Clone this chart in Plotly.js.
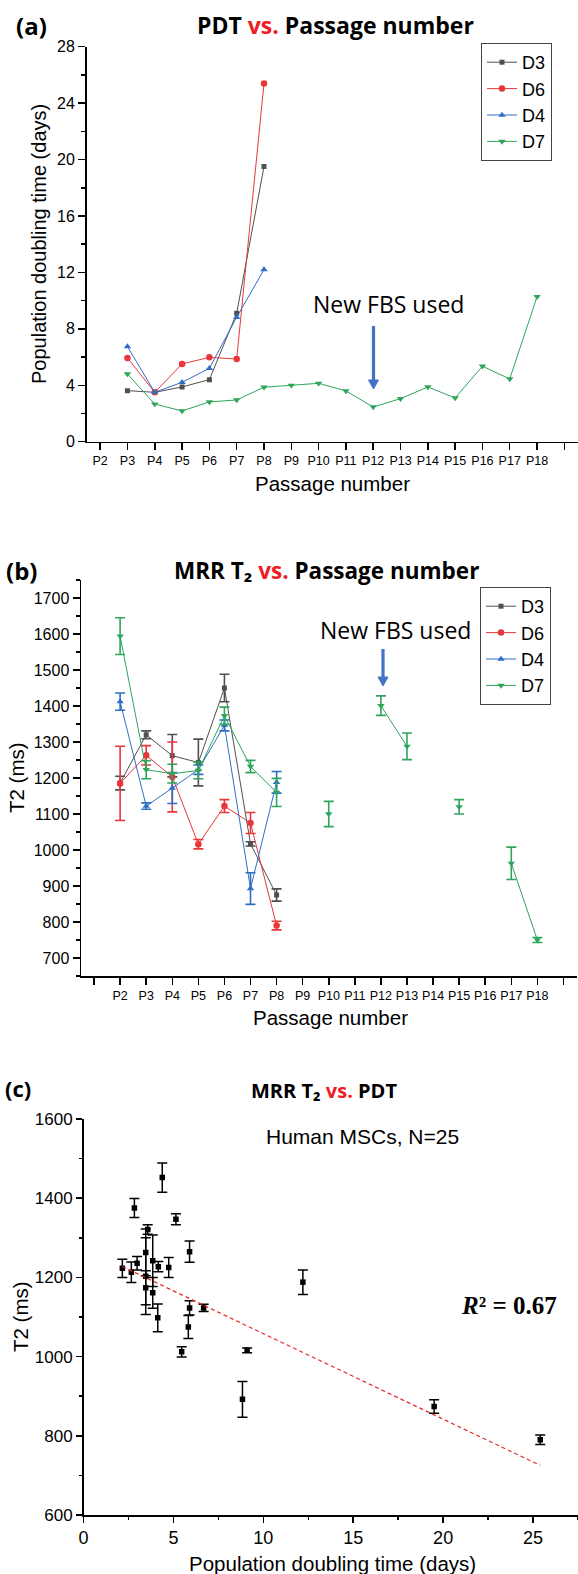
<!DOCTYPE html>
<html>
<head>
<meta charset="utf-8">
<script src="https://cdn.plot.ly/plotly-3.0.1.min.js"></script>
<style>
  html, body { margin: 0; padding: 0; background: #fff; }
  #chart { width: 578px; height: 1574px; }
</style>
</head>
<body>
<div id="chart"></div>
<script>
// ---------------- DATA ----------------
// Tick labels of the passage axes
const passageLabels = ['P2','P3','P4','P5','P6','P7','P8','P9','P10','P11','P12','P13','P14','P15','P16','P17','P18'];
const seriesNames = ['D3','D6','D4','D7'];

// (a) Population doubling time (days) vs passage
const pdtPassagesShort = ['P3','P4','P5','P6','P7','P8'];
const pdtPassagesD7 = ['P3','P4','P5','P6','P7','P8','P9','P10','P11','P12','P13','P14','P15','P16','P17','P18'];
const pdtD3 = [3.62, 3.50, 3.88, 4.40, 9.10, 19.50];
const pdtD6 = [5.94, 3.50, 5.51, 5.98, 5.86, 25.40];
const pdtD4 = [6.74, 3.50, 4.21, 5.20, 8.82, 12.20];
const pdtD7 = [4.80, 2.67, 2.18, 2.82, 2.96, 3.86, 4.00, 4.14, 3.60, 2.46, 3.05, 3.88, 3.10, 5.35, 4.45, 10.28];

// (b) MRR T2 (ms) vs passage, with error bars
const t2PassagesShort = ['P2','P3','P4','P5','P6','P7','P8'];
const t2PassagesD7 = ['P2','P3','P4','P5','P6','P7','P8','P9','P10','P11','P12','P13','P14','P15','P16','P17','P18'];
const t2D3 = [1186, 1320, 1262, 1243, 1450, 1017, 875];
const t2D3Err = [19, 11, 59, 65, 38, 6, 17];
const t2D6 = [1185, 1263, 1203, 1016, 1122, 1075, 790];
const t2D6Err = [103, 27, 97, 13, 18, 29, 12];
const t2D4 = [1412, 1122, 1172, 1223, 1346, 893, 1188];
const t2D4Err = [24, 9, 43, 13, 15, 44, 30];
const t2D7 = [1594, 1223, 1212, 1221, 1373, 1232, 1160, null, 1100, null, 1401, 1288, null, 1120, null, 963, 750];
const t2D7Err = [51, 25, 26, 23, 24, 17, 39, null, 35, null, 27, 37, null, 20, null, 45, 7];

// (c) MRR T2 vs PDT (N = 25)
const cPdt = [4.38, 2.83, 5.14, 3.57, 3.46, 5.90, 2.16, 2.66, 2.98, 3.85, 4.16, 4.74, 3.46, 3.46, 3.85, 4.13, 5.90, 6.68, 5.83, 5.46, 9.10, 12.20, 8.84, 19.50, 25.40];
const cT2 = [1452, 1375, 1347, 1321, 1263, 1265, 1223, 1213, 1236, 1242, 1227, 1225, 1203, 1174, 1161, 1098, 1123, 1123, 1075, 1012, 1016, 1188, 892, 874, 790];
const cErr = [37, 24, 14, 12, 59, 27, 23, 26, 17, 65, 13, 25, 97, 43, 39, 35, 18, 9, 29, 13, 6, 31, 45, 17, 12];
// Linear fit shown on the chart
const fitSlope = -21.6;
const fitIntercept = 1274;
const fitR2Text = '0.67';

// ---------------- HELPERS ----------------
const W = 578, H = 1574;
const px = x => x / W;
const py = y => 1 - y / H;
const pnum = lbl => parseInt(lbl.slice(1), 10);

const colors = { D3: '#505050', D6: '#e8363a', D4: '#2f6ec4', D7: '#2ea55b' };
const symbols = { D3: 'square', D6: 'circle', D4: 'triangle-up', D7: 'triangle-down' };
const sans = "Arial, 'Liberation Sans', sans-serif";
const titleFont = "'Open Sans', 'Noto Sans', 'DejaVu Sans', sans-serif";

function lineTrace(name, xs, ys, xa, ya, legend, err) {
  const t = {
    type: 'scatter', mode: 'lines+markers', name: name,
    x: xs.map(pnum), y: ys, xaxis: xa, yaxis: ya,
    legend: legend, showlegend: true,
    connectgaps: false,
    line: { color: colors[name], width: 1 },
    marker: { color: colors[name], symbol: symbols[name], size: name === 'D3' ? 5 : 6.5 }
  };
  if (err) {
    t.error_y = { type: 'data', array: err, visible: true, color: colors[name], thickness: 1.6, width: 5 };
  }
  return t;
}

const traces = [
  lineTrace('D3', pdtPassagesShort, pdtD3, 'x', 'y', 'legend', null),
  lineTrace('D6', pdtPassagesShort, pdtD6, 'x', 'y', 'legend', null),
  lineTrace('D4', pdtPassagesShort, pdtD4, 'x', 'y', 'legend', null),
  lineTrace('D7', pdtPassagesD7, pdtD7, 'x', 'y', 'legend', null),
  lineTrace('D3', t2PassagesShort, t2D3, 'x2', 'y2', 'legend2', t2D3Err),
  lineTrace('D6', t2PassagesShort, t2D6, 'x2', 'y2', 'legend2', t2D6Err),
  lineTrace('D4', t2PassagesShort, t2D4, 'x2', 'y2', 'legend2', t2D4Err),
  lineTrace('D7', t2PassagesD7, t2D7, 'x2', 'y2', 'legend2', t2D7Err),
  {
    type: 'scatter', mode: 'markers', x: cPdt, y: cT2, xaxis: 'x3', yaxis: 'y3', showlegend: false,
    marker: { color: '#000', symbol: 'square', size: 5.5 },
    error_y: { type: 'data', array: cErr, visible: true, color: '#000', thickness: 1.5, width: 5 }
  }
];
const fx0 = Math.min(...cPdt), fx1 = Math.max(...cPdt);
traces.push({
  type: 'scatter', mode: 'lines', x: [fx0, fx1], y: [fitIntercept + fitSlope * fx0, fitIntercept + fitSlope * fx1],
  xaxis: 'x3', yaxis: 'y3', showlegend: false,
  line: { color: '#e8262a', width: 1.2, dash: '4px,3px' }
});

// ---------------- AXES ----------------
function baseAxis(extra) {
  return Object.assign({
    showline: true, linecolor: '#000', linewidth: 1.5, mirror: false,
    showgrid: false, zeroline: false, ticks: 'outside', ticklen: 7, tickwidth: 1.5, tickcolor: '#000',
    tickfont: { family: sans, size: 16, color: '#000' }, fixedrange: true
  }, extra);
}
const passTickVals = passageLabels.map(pnum);
const blankTick = { tickmode: 'array', ticklen: 7, tickwidth: 1.5, tickcolor: '#000', ticks: 'outside', showgrid: false };

const layout = {
  width: W, height: H, margin: { l: 0, r: 0, t: 0, b: 0 },
  paper_bgcolor: '#fff', plot_bgcolor: '#fff', hovermode: false,
  font: { family: sans, color: '#000' },
  xaxis: baseAxis({
    domain: [px(86.5), 1], range: [1.5, 19.5], anchor: 'y',
    tickmode: 'array', tickvals: passTickVals, ticktext: passageLabels,
    tickfont: { family: sans, size: 12.5, color: '#000' },
    minor: Object.assign({ tickvals: [19] }, blankTick)
  }),
  yaxis: baseAxis({
    domain: [py(441.7), py(46.7)], range: [0, 28], anchor: 'x', dtick: 4, tick0: 0,
    minor: { dtick: 2, ticklen: 4, tickwidth: 1.5, tickcolor: '#000', ticks: 'outside' }
  }),
  xaxis2: baseAxis({
    domain: [px(81), px(576.5)], range: [0.5, 19.5], anchor: 'y2',
    tickmode: 'array', tickvals: passTickVals, ticktext: passageLabels,
    tickfont: { family: sans, size: 12.5, color: '#000' },
    minor: Object.assign({ tickvals: [1, 19] }, blankTick)
  }),
  yaxis2: baseAxis({
    domain: [py(976), py(580)], range: [650, 1750], anchor: 'x2', dtick: 100, tick0: 700,
    minor: { dtick: 50, ticklen: 4, tickwidth: 1.5, tickcolor: '#000', ticks: 'outside' }
  }),
  xaxis3: baseAxis({
    domain: [px(83.5), 1], range: [0, 27.5], anchor: 'y3', dtick: 5, tick0: 0, ticklen: 6,
    tickfont: { family: sans, size: 18, color: '#000' },
    minor: { dtick: 2.5, ticklen: 3.5, tickwidth: 1.5, tickcolor: '#000', ticks: 'outside' }
  }),
  yaxis3: baseAxis({
    domain: [py(1515), py(1119)], range: [600, 1600], anchor: 'x3', dtick: 200, tick0: 600, ticklen: 6,
    tickfont: { family: sans, size: 17, color: '#000' },
    minor: { dtick: 100, ticklen: 3.5, tickwidth: 1.5, tickcolor: '#000', ticks: 'outside' }
  }),
  legend: {
    x: px(481), y: py(43), xanchor: 'left', yanchor: 'top',
    bordercolor: '#444', borderwidth: 1, bgcolor: '#fff',
    font: { family: sans, size: 18, color: '#000' }, itemwidth: 30, tracegroupgap: 0
  },
  legend2: {
    x: px(480), y: py(587), xanchor: 'left', yanchor: 'top',
    bordercolor: '#444', borderwidth: 1, bgcolor: '#fff',
    font: { family: sans, size: 18, color: '#000' }, itemwidth: 30, tracegroupgap: 0
  },
  annotations: [],
  shapes: []
};

function txt(text, x, y, size, family, extra) {
  layout.annotations.push(Object.assign({
    text: text, x: px(x), y: py(y), xref: 'paper', yref: 'paper',
    xanchor: 'center', yanchor: 'middle', showarrow: false,
    font: { family: family, size: size, color: '#000' }
  }, extra || {}));
}
const vs = "<span style='color:#ee1c25'>vs.</span>";
// Panel labels and titles
txt('<b>(a)</b>', 31.5, 25, 24, titleFont);
txt('<b>PDT ' + vs + ' Passage number</b>', 335, 25, 23, titleFont);
txt('<b>(b)</b>', 21, 570, 24, titleFont);
txt('<b>MRR T\u2082 ' + vs + ' Passage number</b>', 326, 570, 22.5, titleFont);
txt('<b>(c)</b>', 18, 1088, 22, titleFont);
txt('<b>MRR T\u2082 ' + vs + ' PDT</b>', 324, 1090, 20, titleFont);
// Axis titles
txt('Population doubling time (days)', 39, 244, 20, sans, { textangle: -90 });
txt('Passage number', 333, 483, 20.5, sans);
txt('T2 (ms)', 17, 778, 20.5, sans, { textangle: -90 });
txt('Passage number', 330, 1017, 20.5, sans);
txt('T2 (ms)', 20, 1317, 20.5, sans, { textangle: -90 });
txt('Population doubling time (days)', 332, 1563, 20.5, sans);
// Notes
txt('New FBS used', 388, 304, 23, titleFont);
txt('New FBS used', 395, 630, 23, titleFont);
txt('Human MSCs, N=25', 362, 1136, 21, sans);
txt('<b><i>R</i>\u00b2 = ' + fitR2Text + '</b>', 509, 1305, 25, "'Liberation Serif', 'DejaVu Serif', serif");

// Arrows drawn as shapes (shaft + head), positions in page pixels
function arrow(x, tailY, tipY) {
  const headLen = 9, halfW = 5;
  layout.shapes.push({
    type: 'line', xref: 'paper', yref: 'paper',
    x0: px(x), x1: px(x), y0: py(tailY), y1: py(tipY - headLen + 1),
    line: { color: '#4472c4', width: 3.2 }
  });
  layout.shapes.push({
    type: 'path', xref: 'paper', yref: 'paper',
    path: 'M ' + px(x - halfW) + ' ' + py(tipY - headLen) + ' L ' + px(x + halfW) + ' ' + py(tipY - headLen) +
          ' L ' + px(x) + ' ' + py(tipY) + ' Z',
    fillcolor: '#4472c4', line: { color: '#4472c4', width: 1 }
  });
}
arrow(373.5, 326, 389);
arrow(383, 649, 686);

Plotly.newPlot('chart', traces, layout, { staticPlot: true, displayModeBar: false });
</script>
</body>
</html>
